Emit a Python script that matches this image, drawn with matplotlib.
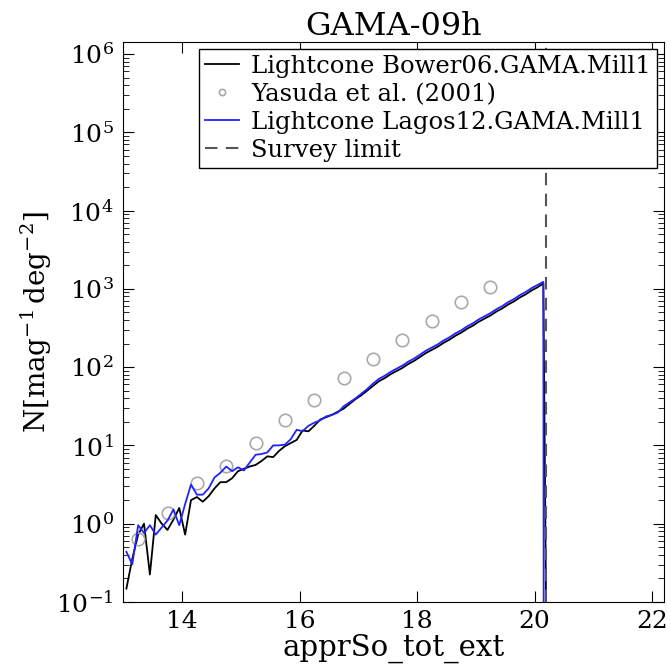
import numpy as np
import matplotlib
matplotlib.use("Agg")
import matplotlib.pyplot as plt

plt.rcParams["font.family"] = "DejaVu Serif"
plt.rcParams["mathtext.fontset"] = "dejavuserif"

# bin centres (0.1 mag bins)
mag_bins = np.round(np.arange(13.05, 20.16, 0.1), 2)

# log10 N for Bower06 lightcone
bower_log = [
    -0.83, -0.45, -0.14, 0.00, -0.65, 0.11, 0.00, -0.08, 0.05, 0.20,
    -0.14, 0.30, 0.34, 0.28, 0.35, 0.45, 0.53, 0.53, 0.58, 0.67,
    0.70, 0.73, 0.75, 0.80, 0.86, 0.85, 0.93, 0.99, 1.03, 1.07,
    1.19, 1.18, 1.25, 1.33, 1.36, 1.39, 1.43, 1.47, 1.53, 1.59,
    1.64, 1.70, 1.76, 1.82, 1.86, 1.91, 1.95, 1.99, 2.04, 2.08,
    2.13, 2.18, 2.22, 2.26, 2.31, 2.35, 2.40, 2.44, 2.49, 2.53,
    2.58, 2.62, 2.66, 2.71, 2.75, 2.80, 2.84, 2.89, 2.93, 2.98,
    3.02, 3.07,
]

# log10 N for Lagos12 lightcone
lagos_log = [
    -0.36, -0.52, -0.02, -0.12, -0.02, -0.14, -0.05, 0.04, 0.18, -0.02,
    0.25, 0.50, 0.37, 0.37, 0.45, 0.59, 0.65, 0.73, 0.67, 0.72,
    0.68, 0.78, 0.88, 0.89, 0.91, 1.00, 1.00, 1.01, 1.08, 1.20,
    1.18, 1.25, 1.29, 1.32, 1.37, 1.39, 1.42, 1.50, 1.55, 1.60,
    1.66, 1.72, 1.79, 1.85, 1.89, 1.94, 1.98, 2.02, 2.07, 2.11,
    2.16, 2.21, 2.25, 2.29, 2.34, 2.38, 2.43, 2.47, 2.52, 2.56,
    2.61, 2.65, 2.69, 2.74, 2.78, 2.83, 2.87, 2.92, 2.96, 3.01,
    3.05, 3.09,
]

# Yasuda et al. (2001) counts
yasuda_mag = [13.25, 13.75, 14.25, 14.75, 15.25, 15.75, 16.25,
              16.75, 17.25, 17.75, 18.25, 18.75, 19.25]
yasuda_n = [0.63, 1.38, 3.3, 5.5, 10.7, 21, 38, 72, 126, 224, 389, 676, 1072]

survey_limit = 20.2
empty_level = 1e-4  # counts beyond the limit (off the plot)

bower_x = list(mag_bins) + [20.23]
bower_y = list(10 ** np.array(bower_log)) + [empty_level]
lagos_x = list(mag_bins) + [20.16]
lagos_y = list(10 ** np.array(lagos_log)) + [empty_level]

fig = plt.figure(figsize=(6.71, 6.71), dpi=100)
ax = fig.add_axes([0.184, 0.103, 0.806, 0.835])

ax.plot(bower_x, bower_y, color="k", lw=1.3, label="Lightcone Bower06.GAMA.Mill1")
ax.plot(yasuda_mag, yasuda_n, ls="none", marker="o", ms=9, mfc="none",
        mec="#aaaaaa", mew=1.2, label="Yasuda et al. (2001)")
ax.plot(lagos_x, lagos_y, color="#2222ff", lw=1.3, label="Lightcone Lagos12.GAMA.Mill1")
ax.axvline(survey_limit, color="#555555", ls=(0, (6, 4)), lw=1.5, label="Survey limit")

ax.set_yscale("log")
ax.set_xlim(13, 22.21)
ax.set_ylim(0.1, 10 ** 6.16)
ax.set_xticks([14, 16, 18, 20, 22])

ax.tick_params(which="both", direction="in", top=True, right=True, labelsize=18)
ax.tick_params(which="major", length=8)
ax.tick_params(which="minor", length=4)
ax.tick_params(axis="x", pad=6)
ax.tick_params(axis="y", pad=7)

ax.set_xlabel("apprSo_tot_ext", fontsize=21, labelpad=0)
ax.set_ylabel(r"$\mathrm{N[mag^{-1}\,deg^{-2}]}$", fontsize=20, labelpad=2)
ax.set_title("GAMA-09h", fontsize=23, pad=3)

leg = ax.legend(loc="upper right", fontsize=17.5, frameon=True, fancybox=False,
                edgecolor="k", framealpha=1, labelspacing=0.2, handlelength=1.4,
                handletextpad=0.5, borderpad=0.25, borderaxespad=0.3,
                markerscale=0.5, numpoints=1)
leg.get_frame().set_linewidth(1.0)

fig.savefig("out.png", dpi=100)
